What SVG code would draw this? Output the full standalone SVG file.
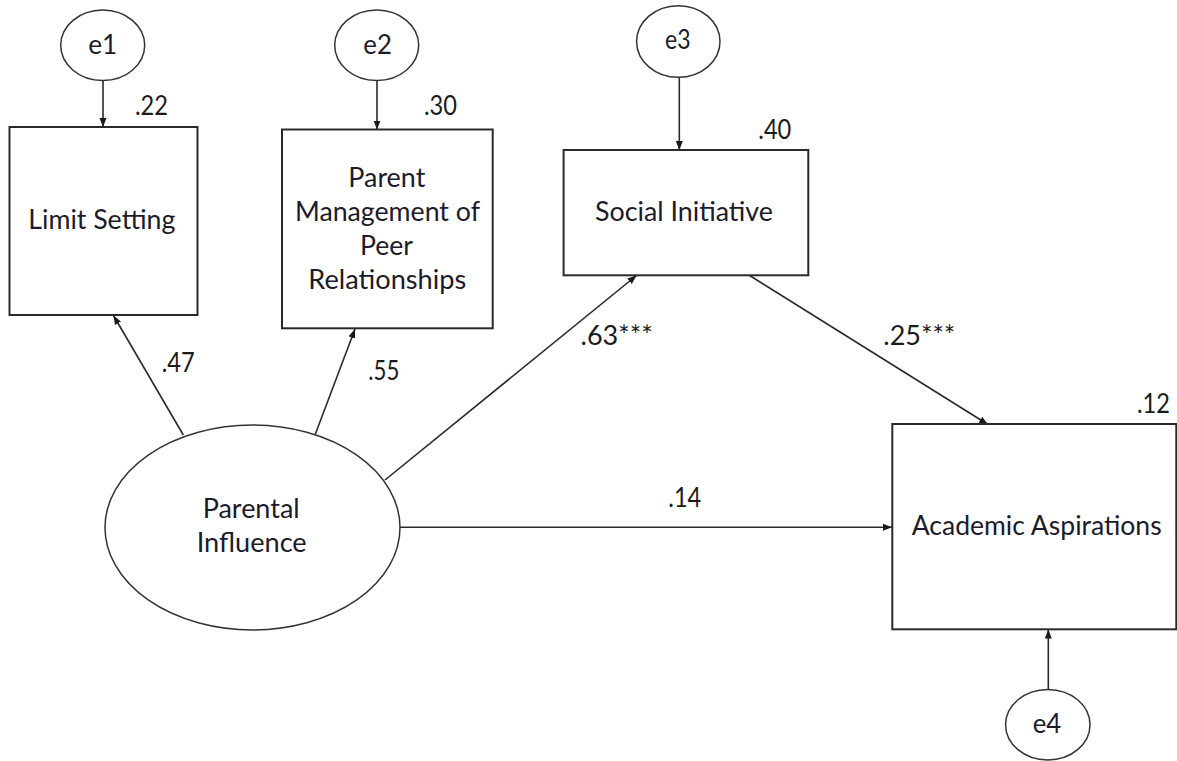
<svg xmlns="http://www.w3.org/2000/svg" width="1177" height="761" viewBox="0 0 1177 761">
<style>
  .box { fill: #ffffff; stroke: #2a2a2a; stroke-width: 2; }
  .ell { fill: #ffffff; stroke: #333333; stroke-width: 1.5; }
  .lbl { font-family: Lato, "Liberation Sans", sans-serif; font-size: 26px; fill: #1b1b2b; }
  .coef { font-family: Lato, "Liberation Sans", sans-serif; font-size: 26px; fill: #1b1b1b; }
  .conn line { stroke: #2a2a2a; stroke-width: 1.6; fill: none; }
  .arr { marker-end: url(#ah); }
</style>
<defs>
  <marker id="ah" markerUnits="userSpaceOnUse" markerWidth="10" markerHeight="8" refX="9" refY="4" orient="auto">
    <path d="M0,0.5 L9,4 L0,7.5 z" fill="#1a1a1a"/>
  </marker>
</defs>
<rect width="1177" height="761" fill="#ffffff"/>

<g id="connectors" class="conn">
  <line class="arr" x1="103" y1="80.5" x2="103" y2="127"/>
  <line class="arr" x1="377" y1="80.5" x2="377" y2="129.5"/>
  <line class="arr" x1="679.3" y1="77.3" x2="679.3" y2="150"/>
  <line class="arr" x1="1048.3" y1="689.3" x2="1048.3" y2="629.5"/>
  <line class="arr" x1="183.3" y1="435" x2="113.5" y2="315.5"/>
  <line class="arr" x1="315" y1="435" x2="355" y2="329"/>
  <line class="arr" x1="385" y1="480" x2="636.5" y2="275.5"/>
  <line class="arr" x1="400" y1="527.3" x2="892" y2="527.3"/>
  <line class="arr" x1="749.2" y1="275.3" x2="988" y2="424.5"/>
  <text class="coef" x="161.7" y="372" textLength="33" lengthAdjust="spacingAndGlyphs">.47</text>
  <text class="coef" x="368.3" y="380" textLength="31" lengthAdjust="spacingAndGlyphs">.55</text>
  <text class="coef" x="580.6" y="345" textLength="72" lengthAdjust="spacingAndGlyphs">.63***</text>
  <text class="coef" x="883.3" y="345" textLength="72" lengthAdjust="spacingAndGlyphs">.25***</text>
  <text class="coef" x="668.3" y="507" textLength="33" lengthAdjust="spacingAndGlyphs">.14</text>
</g>

<g id="e1">
  <ellipse class="ell" cx="102.7" cy="45.3" rx="42" ry="35.3"/>
  <text class="lbl" x="88.3" y="54" textLength="29" lengthAdjust="spacingAndGlyphs">e1</text>
</g>
<g id="e2">
  <ellipse class="ell" cx="376.7" cy="45.3" rx="42" ry="35.3"/>
  <text class="lbl" x="363.3" y="54" textLength="28.5" lengthAdjust="spacingAndGlyphs">e2</text>
</g>
<g id="e3">
  <ellipse class="ell" cx="678.3" cy="41.5" rx="41.7" ry="35.8"/>
  <text class="lbl" x="665" y="49.3" textLength="25.5" lengthAdjust="spacingAndGlyphs">e3</text>
</g>
<g id="e4">
  <ellipse class="ell" cx="1047.8" cy="724.7" rx="42.2" ry="35.3"/>
  <text class="lbl" x="1032.7" y="733.3" textLength="28.5" lengthAdjust="spacingAndGlyphs">e4</text>
</g>

<g id="limit-setting">
  <rect class="box" x="9.5" y="127" width="188" height="188"/>
  <text class="lbl" x="28.3" y="229" textLength="147" lengthAdjust="spacingAndGlyphs">Limit Setting</text>
  <text class="coef" x="135" y="115" textLength="33" lengthAdjust="spacingAndGlyphs">.22</text>
</g>

<g id="parent-management">
  <rect class="box" x="282" y="129.5" width="210.7" height="198.8"/>
  <text class="lbl" x="348.3" y="187" textLength="77" lengthAdjust="spacingAndGlyphs">Parent</text>
  <text class="lbl" x="295" y="221" textLength="185" lengthAdjust="spacingAndGlyphs">Management of</text>
  <text class="lbl" x="360" y="255" textLength="53" lengthAdjust="spacingAndGlyphs">Peer</text>
  <text class="lbl" x="308.3" y="289" textLength="158" lengthAdjust="spacingAndGlyphs">Relationships</text>
  <text class="coef" x="424" y="115" textLength="33" lengthAdjust="spacingAndGlyphs">.30</text>
</g>

<g id="social-initiative">
  <rect class="box" x="563.6" y="150" width="244.7" height="125.3"/>
  <text class="lbl" x="595" y="221" textLength="178" lengthAdjust="spacingAndGlyphs">Social Initiative</text>
  <text class="coef" x="758.3" y="139.3" textLength="33" lengthAdjust="spacingAndGlyphs">.40</text>
</g>

<g id="academic-aspirations">
  <rect class="box" x="892.3" y="424" width="284" height="205.3"/>
  <text class="lbl" x="911.7" y="535" textLength="250" lengthAdjust="spacingAndGlyphs">Academic Aspirations</text>
  <text class="coef" x="1137" y="413.3" textLength="33" lengthAdjust="spacingAndGlyphs">.12</text>
</g>

<g id="parental-influence">
  <ellipse class="ell" cx="252.5" cy="527.5" rx="147.5" ry="102.5"/>
  <text class="lbl" x="202.7" y="518.3" textLength="97" lengthAdjust="spacingAndGlyphs">Parental</text>
  <text class="lbl" x="196.7" y="552.3" textLength="110" lengthAdjust="spacingAndGlyphs">Influence</text>
</g>
</svg>
